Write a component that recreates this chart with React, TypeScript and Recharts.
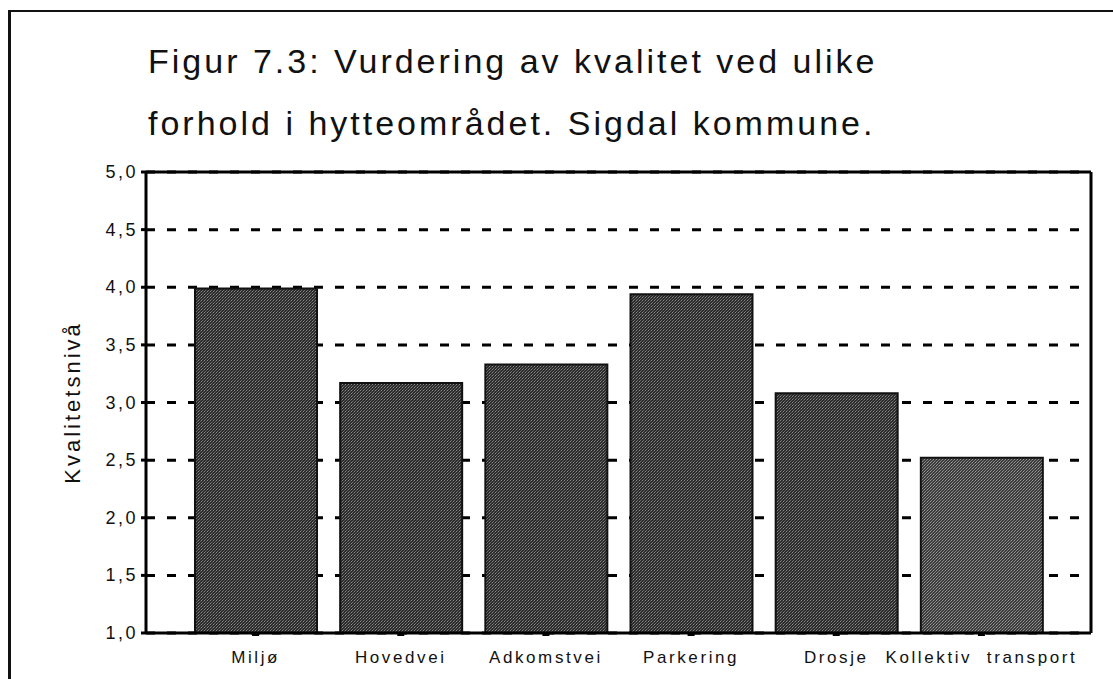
import React from 'react';
import {
  BarChart,
  Bar,
  XAxis,
  YAxis,
  CartesianGrid,
  Cell,
} from 'recharts';

const categories = ['Miljø', 'Hovedvei', 'Adkomstvei', 'Parkering', 'Drosje', 'Kollektiv  transport'];
const kvalitet = [3.99, 3.17, 3.33, 3.94, 3.08, 2.52];
const yTicks = [1, 1.5, 2, 2.5, 3, 3.5, 4, 4.5, 5];
const titleLines = [
  'Figur 7.3: Vurdering av kvalitet ved ulike',
  'forhold i hytteområdet. Sigdal kommune.',
];
const yLabel = 'Kvalitetsnivå';

const data = categories.map((name, i) => ({ name, value: kvalitet[i] }));

const FONT = '"Liberation Sans", Arial, Helvetica, sans-serif';

const XTick = (props: any) => {
  const { x, y, payload } = props;
  return (
    <text
      x={x}
      y={y}
      dy={27}
      textAnchor="middle"
      fill="#111"
      fontSize={17}
      fontFamily={FONT}
      letterSpacing={2.6}
      style={{ whiteSpace: 'pre' }}
    >
      {payload.value}
    </text>
  );
};

const YTick = (props: any) => {
  const { x, y, payload } = props;
  return (
    <text
      x={x}
      y={y}
      dy={6}
      textAnchor="end"
      fill="#111"
      fontSize={18}
      fontFamily={FONT}
      letterSpacing={2.5}
    >
      {Number(payload.value).toFixed(1).replace('.', ',')}
    </text>
  );
};

const YLabel = (props: any) => {
  const { viewBox } = props;
  const cx = viewBox.x + 22;
  const cy = viewBox.y + viewBox.height / 2;
  return (
    <text
      x={cx}
      y={cy}
      transform={`rotate(-90 ${cx} ${cy})`}
      textAnchor="middle"
      dominantBaseline="central"
      fill="#111"
      fontSize={22}
      fontFamily={FONT}
      letterSpacing={3}
    >
      {yLabel}
    </text>
  );
};

export default function App() {
  return (
    <div
      style={{
        position: 'absolute',
        left: 0,
        top: 0,
        width: 1113,
        height: 679,
        overflow: 'hidden',
        background: '#fff',
        fontFamily: FONT,
      }}
    >
      <div
        style={{
          position: 'absolute',
          left: 8,
          top: 10,
          width: 1110,
          height: 675,
          borderLeft: '3px solid #111',
          borderTop: '2px solid #111',
        }}
      />
      {titleLines.map((line, i) => (
        <div
          key={i}
          style={{
            position: 'absolute',
            left: 148,
            top: 30 + i * 62,
            fontSize: 34,
            lineHeight: '62px',
            letterSpacing: 3,
            color: '#111',
            whiteSpace: 'pre',
          }}
        >
          {line}
        </div>
      ))}
      <div style={{ position: 'absolute', left: 0, top: 0 }}>
        <BarChart
          width={1113}
          height={679}
          data={data}
          margin={{ top: 162, right: 12, bottom: 16, left: 50 }}
        >
          <defs>
            <pattern id="stipple" width="3" height="3" patternUnits="userSpaceOnUse">
              <rect width="3" height="3" fill="#2c2c2c" />
              <rect x="0" y="0" width="1" height="1" fill="#8a8a8a" />
              <rect x="2" y="1" width="1" height="1" fill="#5a5a5a" />
              <rect x="1" y="2" width="1" height="1" fill="#6e6e6e" />
            </pattern>
            <pattern id="stippleLight" width="3" height="3" patternUnits="userSpaceOnUse">
              <rect width="3" height="3" fill="#3c3c3c" />
              <rect x="0" y="0" width="1" height="1" fill="#9a9a9a" />
              <rect x="2" y="1" width="1" height="1" fill="#7a7a7a" />
              <rect x="1" y="2" width="1" height="1" fill="#888" />
            </pattern>
          </defs>
          <CartesianGrid
            vertical={false}
            stroke="#000"
            strokeWidth={3}
            strokeDasharray="9 12"
          />
          <XAxis
            dataKey="name"
            interval={0}
            padding={{ left: 37, right: 37 }}
            height={30}
            axisLine={{ stroke: '#000', strokeWidth: 3 }}
            tickLine={{ stroke: '#000', strokeWidth: 7 }}
            tickSize={3}
            tickMargin={0}
            tick={<XTick />}
          />
          <XAxis
            xAxisId="top"
            dataKey="name"
            orientation="top"
            height={10}
            axisLine={{ stroke: '#000', strokeWidth: 3 }}
            tickLine={false}
            tick={false}
          />
          <YAxis
            domain={[1, 5]}
            ticks={yTicks}
            width={96}
            allowDataOverflow
            axisLine={{ stroke: '#000', strokeWidth: 3 }}
            tickLine={{ stroke: '#000', strokeWidth: 3 }}
            tickSize={5}
            tickMargin={3}
            tick={<YTick />}
            label={<YLabel />}
          />
          <YAxis
            yAxisId="right"
            orientation="right"
            domain={[1, 5]}
            width={10}
            axisLine={{ stroke: '#000', strokeWidth: 3 }}
            tickLine={false}
            tick={false}
          />
          <Bar
            dataKey="value"
            barSize={122}
            fill="url(#stipple)"
            stroke="#111"
            strokeWidth={2}
            isAnimationActive={false}
          >
            {data.map((d, i) => (
              <Cell key={d.name} fill={i === data.length - 1 ? 'url(#stippleLight)' : 'url(#stipple)'} />
            ))}
          </Bar>
        </BarChart>
      </div>
    </div>
  );
}
